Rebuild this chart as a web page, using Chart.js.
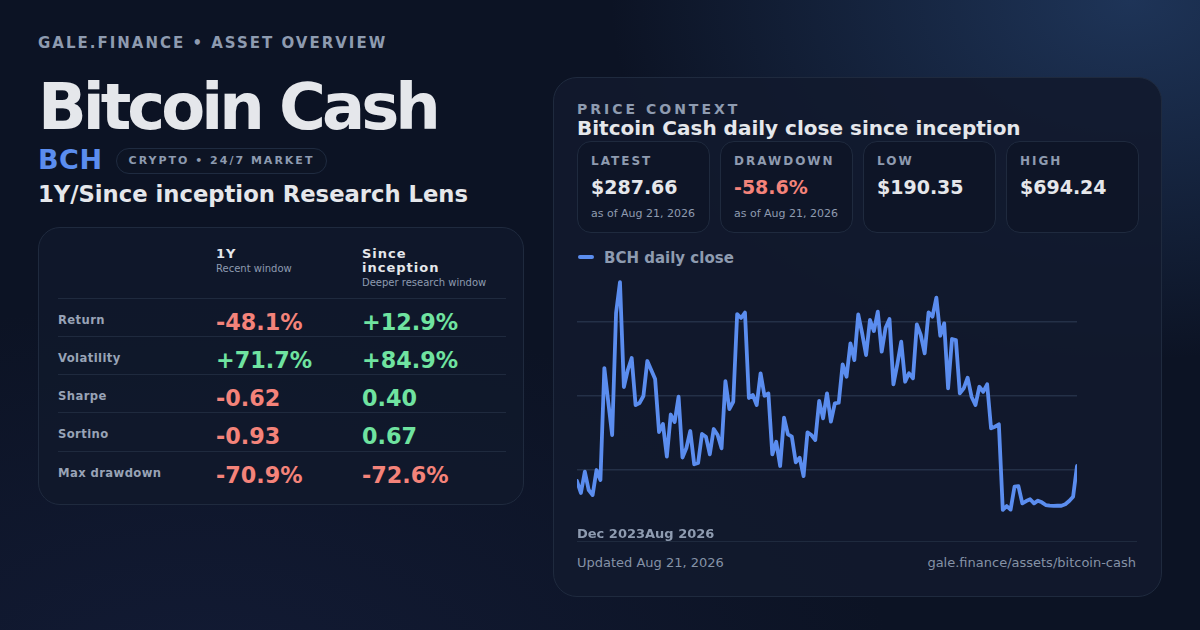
<!DOCTYPE html>
<html lang="en">
<head>
  <meta charset="UTF-8">
  <title>Bitcoin Cash – Asset Overview</title>
  <script src="https://cdn.jsdelivr.net/npm/chart.js"></script>
  <style>
    * { box-sizing: border-box; margin: 0; padding: 0; }
    body {
      width: 1200px; height: 630px; overflow: hidden;
      font-family: "DejaVu Sans", sans-serif;
      color: #e5e7eb;
      background:
        radial-gradient(ellipse 520px 360px at 1130px 0px, rgba(42, 74, 122, 0.6), rgba(42, 74, 122, 0) 100%),
        radial-gradient(ellipse 700px 400px at 200px 700px, rgba(25, 35, 70, 0.5), rgba(25, 35, 70, 0) 100%),
        #0c1324;
      position: relative;
    }
    .abs { position: absolute; }
    .kicker { left: 38px; top: 34px; font-size: 15px; font-weight: bold; letter-spacing: 2px; color: #8e9bb0; }
    .title { left: 38px; top: 70px; font-size: 64px; font-weight: bold; color: #e5e7eb; letter-spacing: -4px; }
    .ticker { left: 38px; top: 144px; font-size: 27px; font-weight: bold; color: #5b8def; letter-spacing: 0.5px; }
    .pill {
      left: 116px; top: 148px; height: 26px; width: 211px;
      border: 1px solid #1f2b40; border-radius: 13px; background: #0d1424;
      font-size: 11px; font-weight: bold; letter-spacing: 2px; color: #8e9bb0;
      line-height: 24px; text-align: center;
    }
    .lens { left: 38px; top: 181px; font-size: 22.7px; font-weight: bold; color: #e5e7eb; }

    .card {
      border: 1px solid #1f2a3e; background: rgba(17, 25, 43, 0.85);
    }
    .metrics { left: 38px; top: 227px; width: 486px; height: 278px; border-radius: 22px; }
    .metrics .col { position: absolute; }
    .hd { font-size: 13px; font-weight: bold; letter-spacing: 1px; color: #e5e7eb; line-height: 14px; }
    .sub { font-size: 10px; color: #8e9bb0; margin-top: 2px; }
    .row { position: absolute; left: 19px; width: 448px; height: 38px; border-top: 1px solid #1f2a3e; }
    .row .lab { position: absolute; left: 0; top: 14px; font-size: 11.6px; font-weight: bold; color: #98a3b6; letter-spacing: 0.4px; }
    .row .v { position: absolute; top: 10px; font-size: 22.3px; font-weight: bold; }
    .neg { color: #f4837a; }
    .pos { color: #6fe3a0; }

    .panel { left: 553px; top: 77px; width: 609px; height: 520px; border-radius: 24px; background: rgba(18, 26, 45, 0.9); }
    .pk { left: 577px; top: 101px; font-size: 14px; font-weight: bold; letter-spacing: 3px; color: #8e9bb0; }
    .pt { left: 577px; top: 116px; font-size: 20px; font-weight: bold; color: #e5e7eb; }
    .stat {
      top: 141px; width: 133px; height: 92px; border-radius: 14px;
      border: 1px solid #1f2a3e; background: #0e1527;
    }
    .stat .sl { position: absolute; left: 13px; top: 12px; font-size: 12px; font-weight: bold; letter-spacing: 2px; color: #8e9bb0; }
    .stat .sv { position: absolute; left: 13px; top: 34px; font-size: 19px; font-weight: bold; color: #e5e7eb; }
    .stat .sn { position: absolute; left: 13px; top: 65px; font-size: 11px; color: #8e9bb0; }
    .legend { left: 578px; top: 249px; font-size: 15px; font-weight: bold; color: #8e9bb0; }
    .legend i { display: inline-block; width: 16px; height: 4px; border-radius: 2px; background: #5b8def; vertical-align: middle; margin-right: 10px; margin-top: -3px; }
    .xl { left: 577px; top: 526px; font-size: 13px; font-weight: bold; color: #8e9bb0; }
    .sep { left: 577px; top: 541px; width: 560px; height: 1px; background: #1f2a3e; }
    .foot { top: 555px; font-size: 13px; color: #8592a6; }
    #chartWrap { left: 577px; top: 248px; width: 500px; height: 296px; }
  </style>
</head>
<body>
  <div class="abs kicker">GALE.FINANCE • ASSET OVERVIEW</div>
  <div class="abs title">Bitcoin Cash</div>
  <div class="abs ticker">BCH</div>
  <div class="abs pill">CRYPTO • 24/7 MARKET</div>
  <div class="abs lens">1Y/Since inception Research Lens</div>

  <div class="abs card metrics" id="metrics">
    <div class="col" style="left:177px; top:19px;">
      <div class="hd">1Y</div>
      <div class="sub">Recent window</div>
    </div>
    <div class="col" style="left:323px; top:19px;">
      <div class="hd">Since<br>inception</div>
      <div class="sub">Deeper research window</div>
    </div>
  </div>

  <div class="abs card panel"></div>
  <div class="abs pk">PRICE CONTEXT</div>
  <div class="abs pt">Bitcoin Cash daily close since inception</div>
  <div id="stats"></div>
  <div class="abs legend"><i></i>BCH daily close</div>
  <div class="abs" id="chartWrap"><canvas id="priceChart" width="500" height="296"></canvas></div>
  <div class="abs xl" id="xLabels"></div>
  <div class="abs sep"></div>
  <div class="abs foot" style="left:577px;">Updated Aug 21, 2026</div>
  <div class="abs foot" style="right:64px;">gale.finance/assets/bitcoin-cash</div>

  <script>
    // Tabla de métricas
    const metricNames = ['Return', 'Volatility', 'Sharpe', 'Sortino', 'Max drawdown'];
    const oneYear = ['-48.1%', '+71.7%', '-0.62', '-0.93', '-70.9%'];
    const sinceInception = ['+12.9%', '+84.9%', '0.40', '0.67', '-72.6%'];

    // Tarjetas de precio
    const statLabels = ['LATEST', 'DRAWDOWN', 'LOW', 'HIGH'];
    const statValues = ['$287.66', '-58.6%', '$190.35', '$694.24'];
    const statNotes = ['as of Aug 21, 2026', 'as of Aug 21, 2026', '', ''];

    // Eixo x (só início e fim aparecem)
    const xTickLabels = ['Dec 2023', 'Aug 2026'];

    // Fechamentos
    const closes = [
      254.2, 227.6, 274.7, 234.2, 223.2, 278.5, 256.4, 504.2, 429.0, 356.0,
      625.9, 694.24, 462.2, 499.8, 526.4, 422.3, 426.8, 442.3, 519.7, 499.8,
      479.9, 362.6, 380.3, 308.4, 401.3, 384.7, 440.7, 306.2, 327.2, 364.8,
      291.1, 294.0, 358.2, 352.2, 313.2, 369.2, 356.0, 326.5, 475.0, 413.5,
      429.6, 623.7, 614.9, 627.0, 437.8, 444.5, 422.3, 492.5, 442.9, 447.8,
      313.2, 341.1, 287.4, 394.2, 357.5, 352.2, 295.5, 305.7, 265.2, 361.9,
      356.0, 344.9, 431.2, 392.9, 448.2, 385.4, 426.1, 427.4, 512.4, 485.0,
      558.9, 521.9, 623.1, 581.0, 533.0, 610.5, 586.1, 628.8, 540.3, 593.4,
      612.7, 468.2, 512.4, 562.4, 473.9, 492.5, 481.4, 600.9, 577.3, 536.8,
      627.5, 617.8, 659.8, 575.7, 603.1, 459.3, 568.4, 566.2, 448.2, 459.3,
      482.8, 440.7, 422.3, 462.8, 451.8, 468.2, 370.8, 374.3, 379.6, 190.35,
      198.8, 190.9, 241.5, 242.8, 204.8, 209.9, 213.7, 204.8, 210.6, 207.0,
      201.0, 199.5, 199.3, 199.6, 199.4, 202.6, 209.9, 219.4, 287.66
    ];

    // Monta a tabela
    const metrics = document.getElementById('metrics');
    metricNames.forEach((name, i) => {
      const row = document.createElement('div');
      row.className = 'row';
      row.style.top = (69.5 + i * 38.3) + 'px';
      const cls = v => (v.startsWith('-') ? 'neg' : 'pos');
      row.innerHTML =
        `<div class="lab">${name}</div>` +
        `<div class="v ${cls(oneYear[i])}" style="left:158px">${oneYear[i]}</div>` +
        `<div class="v ${cls(sinceInception[i])}" style="left:304px">${sinceInception[i]}</div>`;
      metrics.appendChild(row);
    });

    // Monta as tarjetas
    const stats = document.getElementById('stats');
    statLabels.forEach((label, i) => {
      const box = document.createElement('div');
      box.className = 'abs stat';
      box.style.left = (577 + i * 143) + 'px';
      const color = statValues[i].startsWith('-') ? ' style="color:#f4837a"' : '';
      box.innerHTML =
        `<div class="sl">${label}</div>` +
        `<div class="sv"${color}>${statValues[i]}</div>` +
        `<div class="sn">${statNotes[i]}</div>`;
      stats.appendChild(box);
    });

    document.getElementById('xLabels').textContent = xTickLabels.join('');

    // Escala y com folga de 15% acima e abaixo
    const lo = Math.min(...closes);
    const hi = Math.max(...closes);
    const pad = (hi - lo) * 0.15;

    new Chart(document.getElementById('priceChart'), {
      type: 'line',
      data: {
        labels: closes.map((_, i) => i),
        datasets: [{
          label: 'BCH daily close',
          data: closes,
          borderColor: '#5b8def',
          borderWidth: 3.8,
          borderJoinStyle: 'round',
          borderCapStyle: 'round',
          pointRadius: 0,
          tension: 0,
          fill: false
        }]
      },
      options: {
        responsive: false,
        animation: false,
        layout: { padding: 0 },
        plugins: {
          legend: { display: false },
          tooltip: { enabled: false }
        },
        scales: {
          x: { display: false },
          y: {
            min: lo - pad,
            max: hi + pad,
            afterBuildTicks: axis => {
              const span = axis.max - axis.min;
              axis.ticks = [0.25, 0.5, 0.75].map(f => ({ value: axis.min + span * f }));
            },
            ticks: { display: false },
            grid: { color: 'rgba(60, 78, 105, 0.45)', lineWidth: 1.5, drawTicks: false },
            border: { display: false }
          }
        }
      }
    });
  </script>
</body>
</html>
